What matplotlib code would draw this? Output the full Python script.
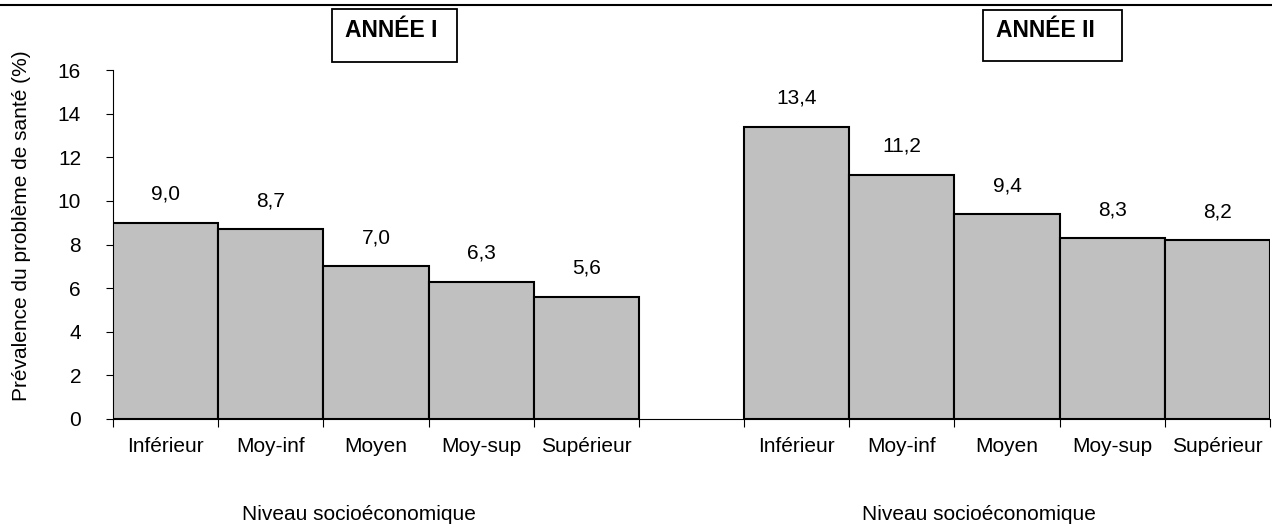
import matplotlib

matplotlib.use('Agg')

import matplotlib.pyplot as plt
import numpy as np
from matplotlib.lines import Line2D
from matplotlib.patches import Rectangle


CATEGORIES = ['Inférieur', 'Moy-inf', 'Moyen', 'Moy-sup', 'Supérieur']
ANNEE_1 = [9.0, 8.7, 7.0, 6.3, 5.6]
ANNEE_2 = [13.4, 11.2, 9.4, 8.3, 8.2]
GROUP_TITLES = ['ANNÉE I', 'ANNÉE II']
Y_TICKS = [0, 2, 4, 6, 8, 10, 12, 14, 16]

W, H = 1272, 524
FONT_SIZE = 15
BAR_COLOR = '#c0c0c0'


def px_x(x):
    return x / W


def px_y(y):
    return 1 - y / H


def fmt_fr(value):
    return f'{value:.1f}'.replace('.', ',')


plt.rcParams['font.family'] = ['Liberation Sans', 'DejaVu Sans']

fig = plt.figure(figsize=(W / 100, H / 100), dpi=100)
ax = fig.add_axes([px_x(113), px_y(419), px_x(1270) - px_x(113), px_y(70) - px_y(419)])

n = len(CATEGORIES)
pos_1 = np.arange(n)
pos_2 = np.arange(n) + n + 1
positions = np.concatenate([pos_1, pos_2])
values = ANNEE_1 + ANNEE_2

ax.bar(positions, values, width=1.0, color=BAR_COLOR, edgecolor='black', linewidth=1.5,
       zorder=3)
for x, v in zip(positions, values):
    ax.annotate(fmt_fr(v), (x, v), xytext=(0, 16.5), textcoords='offset points',
                ha='center', va='baseline', fontsize=FONT_SIZE)

ax.set_xlim(-0.5, 2 * n + 0.5)
ax.set_ylim(0, 16)

# ticks at bar boundaries, category names at bar centres
ax.set_xticks(np.arange(2 * n + 2) - 0.5)
ax.set_xticklabels([])
ax.set_xticks(positions, minor=True)
ax.set_xticklabels(CATEGORIES + CATEGORIES, minor=True, fontsize=FONT_SIZE)
ax.tick_params(axis='x', which='major', direction='out', length=5.5, width=0.8)
ax.tick_params(axis='x', which='minor', length=0, pad=13)

ax.set_yticks(Y_TICKS)
ax.set_yticklabels([str(t) for t in Y_TICKS], fontsize=FONT_SIZE)
ax.tick_params(axis='y', direction='out', length=5, width=0.8, pad=18)

ax.spines['top'].set_visible(False)
ax.spines['right'].set_visible(False)
ax.spines['left'].set_linewidth(0.8)
ax.spines['bottom'].set_linewidth(0.8)

fig.text(px_x(22), px_y(226), 'Prévalence du problème de santé (%)', rotation=90,
         ha='center', va='center', fontsize=FONT_SIZE)

for cx in [359, 979]:
    fig.text(px_x(cx), px_y(520), 'Niveau socioéconomique', ha='center', va='baseline',
             fontsize=FONT_SIZE)

# title boxes
boxes = [(332, 9, 457, 62), (983, 10, 1122, 61)]
for title, (x0, y0, x1, y1) in zip(GROUP_TITLES, boxes):
    fig.add_artist(Rectangle((px_x(x0), px_y(y1)), px_x(x1) - px_x(x0), px_y(y0) - px_y(y1),
                             transform=fig.transFigure, fill=False, edgecolor='black',
                             linewidth=1.3))
    fig.text(px_x(x0 + 13), px_y(37), title, ha='left', va='baseline',
             fontsize=16.5, fontweight='bold')

fig.add_artist(Line2D([0, 1], [px_y(5), px_y(5)], transform=fig.transFigure,
                      color='black', linewidth=1.5))

fig.savefig('out.png', dpi=100)
